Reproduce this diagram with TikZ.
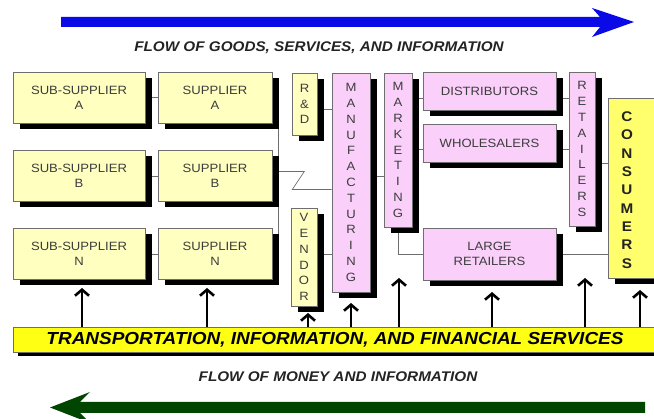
\documentclass[tikz,border=0pt]{standalone}
\usepackage{fontspec}
\setmainfont{Liberation Sans}[FakeStretch=1.09]
\usetikzlibrary{shadows,backgrounds,arrows.meta}
\definecolor{ylw}{RGB}{255,255,192}
\definecolor{pnk}{RGB}{250,208,250}
\definecolor{consy}{RGB}{255,255,110}
\definecolor{bary}{RGB}{255,255,20}
\definecolor{bordc}{RGB}{110,110,110}
\definecolor{txtc}{RGB}{60,60,60}
\definecolor{titc}{RGB}{35,35,35}
\definecolor{flowblue}{RGB}{10,10,230}
\definecolor{flowgreen}{RGB}{0,70,0}
\definecolor{connc}{RGB}{110,110,110}
\begin{document}
\begin{tikzpicture}[x=1pt,y=-1pt,
  box/.style={draw=bordc, line width=0.6pt, inner sep=0pt, align=center, text=txtc,
    drop shadow={shadow xshift=6.5pt, shadow yshift=-6pt, opacity=1, fill=black}},
  ybox/.style={box, fill=ylw, font=\fontsize{12}{15}\selectfont},
  pbox/.style={box, fill=pnk, font=\fontsize{12}{15}\selectfont},
  vbox/.style={box, font=\fontsize{12}{15.8}\selectfont},
  cbox/.style={box, fill=consy},
  constext/.style={inner sep=0pt, align=center, text=titc, font=\bfseries\fontsize{14}{18.3}\selectfont},
  barbox/.style={draw=bordc, line width=0.6pt, fill=bary, inner sep=0pt, text=black,
    font=\bfseries\itshape\fontsize{17.4}{20}\selectfont,
    drop shadow={shadow xshift=5pt, shadow yshift=-4.5pt, opacity=1, fill=black}},
  title/.style={inner sep=0pt, text=titc, font=\bfseries\itshape\fontsize{14}{16}\selectfont},
  conn/.style={draw=connc, line width=0.7pt},
  uparrow/.style={line width=2.6pt, -{Straight Barb[length=6pt,width=14pt]}}
]
\useasboundingbox (0,0) rectangle (654,419);
\clip (0,0) rectangle (654,419);

% flow arrows
\fill[flowblue] (61,17) -- (600,17) -- (592,8) -- (634,22) -- (592,37) -- (600,27) -- (61,27) -- cycle;
\node[title] (t1) at (319,48) {FLOW OF GOODS, SERVICES, AND INFORMATION};

% suppliers
\node[ybox, minimum width=132pt, minimum height=51pt] (SSA) at (79,97.5) {SUB-SUPPLIER\\A};
\node[ybox, minimum width=114pt, minimum height=51pt] (SA) at (215,97.5) {SUPPLIER\\A};
\node[ybox, minimum width=132pt, minimum height=51pt] (SSB) at (79,176) {SUB-SUPPLIER\\B};
\node[ybox, minimum width=114pt, minimum height=51pt] (SB) at (215,176) {SUPPLIER\\B};
\node[ybox, minimum width=132pt, minimum height=51pt] (SSN) at (79,254) {SUB-SUPPLIER\\N};
\node[ybox, minimum width=114pt, minimum height=51pt] (SN) at (215,254) {SUPPLIER\\N};

% vertical boxes
\node[vbox, fill=ylw, minimum width=25pt, minimum height=62pt] (RD) at (304.5,104) {R\\\&\\D};
\node[vbox, fill=ylw, minimum width=26pt, minimum height=98pt] (VEN) at (304,257) {V\\E\\N\\D\\O\\R};
\node[vbox, fill=pnk, minimum width=38pt, minimum height=219pt] (MAN) at (351,182.5) {M\\A\\N\\U\\F\\A\\C\\T\\U\\R\\I\\N\\G};
\node[vbox, fill=pnk, minimum width=28pt, minimum height=154pt] (MKT) at (398,150) {M\\A\\R\\K\\E\\T\\I\\N\\G};

% distribution
\node[pbox, minimum width=133pt, minimum height=38pt] (DIST) at (489.5,91) {DISTRIBUTORS};
\node[pbox, minimum width=133pt, minimum height=38pt] (WHO) at (489.5,143) {WHOLESALERS};
\node[pbox, minimum width=133pt, minimum height=52pt] (LR) at (489.5,254) {LARGE\\RETAILERS};
\node[vbox, fill=pnk, minimum width=26pt, minimum height=154pt] (RET) at (582,149) {R\\E\\T\\A\\I\\L\\E\\R\\S};
\node[cbox, minimum width=62pt, minimum height=180pt] (CONS) at (639,188) {};
\node[constext] (CT) at (627,190) {C\\O\\N\\S\\U\\M\\E\\R\\S};

% services bar
\node[barbox, minimum width=644pt, minimum height=25pt] (bar) at (335,339.5) {TRANSPORTATION, INFORMATION, AND FINANCIAL SERVICES};
\node[title] (t2) at (338,377) {FLOW OF MONEY AND INFORMATION};
\fill[flowgreen] (645,402) -- (80,402) -- (90,392) -- (50,407.5) -- (90,423) -- (80,413) -- (645,413) -- cycle;

% connectors
\begin{scope}[on background layer]
\draw[conn] (SSA) -- (SA);
\draw[conn] (SSB) -- (SB);
\draw[conn] (SSN) -- (SN);
\draw[conn] (SA.east) -- ++(6,0) coordinate (jA) -- (jA |- SN.east) -- (SN.east);
\coordinate (zb) at ([yshift=4.5pt]SB.east);
\draw[conn] (zb) -- ++(32,0) -- ++(-12,18) coordinate (zc) -- (zc -| MAN.west);
\coordinate (rdA) at ([yshift=-5pt]RD.east);
\draw[conn] (rdA) -- (rdA -| MAN.west);
\coordinate (vA) at ([yshift=3pt]VEN.east);
\draw[conn] (vA) -- (vA -| MAN.west);
\coordinate (mA) at ([yshift=6.5pt]MAN.east);
\draw[conn] (mA) -- (mA -| MKT.west);
\coordinate (dA) at ([yshift=-7pt]DIST.west);
\draw[conn] (dA -| MKT.east) -- (dA);
\draw[conn] (dA -| DIST.east) -- (dA -| RET.west);
\coordinate (wA) at ([yshift=-6pt]WHO.west);
\draw[conn] (wA -| MKT.east) -- (wA);
\draw[conn] (wA -| WHO.east) -- (wA -| RET.west);
\draw[conn] (MKT.south) -- (MKT.south |- LR.west) -- (LR.west);
\coordinate (rA) at ([yshift=-14pt]RET.east);
\draw[conn] (rA) -- (rA -| CONS.west);
\draw[conn] (LR.east) -- (LR.east -| CONS.west);
\end{scope}

% service arrows
\coordinate (a1) at (82,288);
\coordinate (a2) at (207,288);
\coordinate (a3) at (308,313);
\coordinate (a4) at (351,303);
\coordinate (a5) at (399,278);
\coordinate (a6) at (492,292);
\coordinate (a7) at (585,278);
\coordinate (a8) at (640,290);
\foreach \a in {a1,a2,a3,a4,a5,a6,a7,a8}
  \draw[uparrow] (\a |- bar.north) -- (\a);
\end{tikzpicture}
\end{document}
